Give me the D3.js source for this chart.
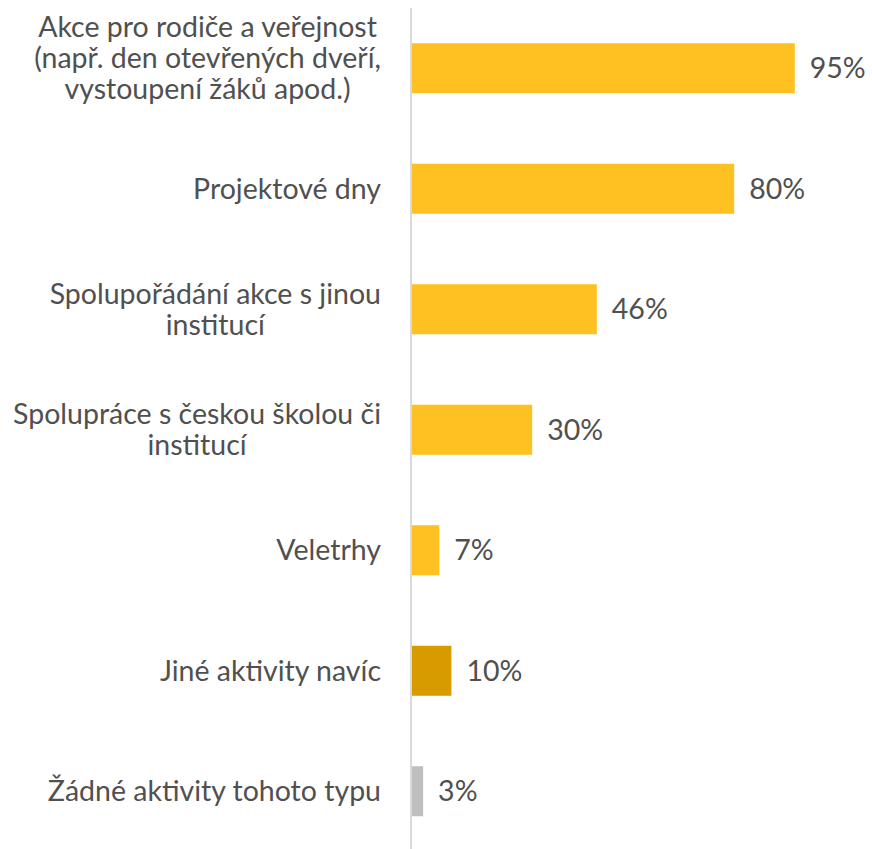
<!DOCTYPE html>
<html><head><meta charset="utf-8">
<script src="https://cdn.jsdelivr.net/npm/d3@7"></script>
<style>body{margin:0;background:#fff;} svg{display:block;}</style>
</head><body>
<script>
const categories = [
  ["Akce pro rodiče a veřejnost", "(např. den otevřených dveří,", "vystoupení žáků apod.)"],
  ["Projektové dny"],
  ["Spolupořádání akce s jinou", "institucí"],
  ["Spolupráce s českou školou či", "institucí"],
  ["Veletrhy"],
  ["Jiné aktivity navíc"],
  ["Žádné aktivity tohoto typu"]
];
const values = [95, 80, 46, 30, 7, 10, 3];
const valueLabels = ["95%", "80%", "46%", "30%", "7%", "10%", "3%"];
const barColors = ["#FFC022", "#FFC022", "#FFC022", "#FFC022", "#FFC022", "#D79B00", "#BFBFBF"];

const W = 872, H = 849;
const svg = d3.select("body").append("svg").attr("width", W).attr("height", H);
const x0 = 411;
const x = d3.scaleLinear().domain([0, 100]).range([x0, x0 + 404]);
const y = d3.scaleBand().domain(d3.range(categories.length)).range([8, 8 + 7 * 120.5]).paddingInner(0.585).paddingOuter(0.2925);

const font = "Lato, 'Open Sans', sans-serif";
const fs = 28.5;
const textColor = "#505050";

svg.append("g").selectAll("rect").data(values).join("rect")
  .attr("x", x0 + 1)
  .attr("y", (d, i) => y(i))
  .attr("width", d => x(d) - x0 - 1)
  .attr("height", y.bandwidth())
  .attr("fill", (d, i) => barColors[i]);

svg.append("line").attr("x1", x0).attr("x2", x0).attr("y1", 8).attr("y2", H)
  .attr("stroke", "#D9D9D9").attr("stroke-width", 2);

svg.append("g").selectAll("text").data(values).join("text")
  .attr("x", d => x(d) + 15)
  .attr("y", (d, i) => y(i) + y.bandwidth() / 2)
  .attr("dy", "0.35em")
  .attr("font-family", font).attr("font-size", fs).attr("fill", textColor)
  .text((d, i) => valueLabels[i]);

const lh = 31;
const rightEdge = 381;
const lab = svg.append("g").selectAll("text").data(categories).join("text")
  .attr("text-anchor", "middle")
  .attr("font-family", font).attr("font-size", fs).attr("fill", textColor);
lab.each(function(lines, i) {
  const cy = y(i) + y.bandwidth() / 2;
  const start = cy - (lines.length - 1) * lh / 2 - (lines.length > 2 ? 10 : 0);
  const t = d3.select(this);
  const spans = t.selectAll("tspan").data(lines).join("tspan")
    .attr("y", (d, j) => start + j * lh).attr("dy", "0.35em").text(d => d);
  let maxW = 0;
  spans.each(function() { maxW = Math.max(maxW, this.getComputedTextLength()); });
  spans.attr("x", rightEdge - maxW / 2);
});
</script>
</body></html>
